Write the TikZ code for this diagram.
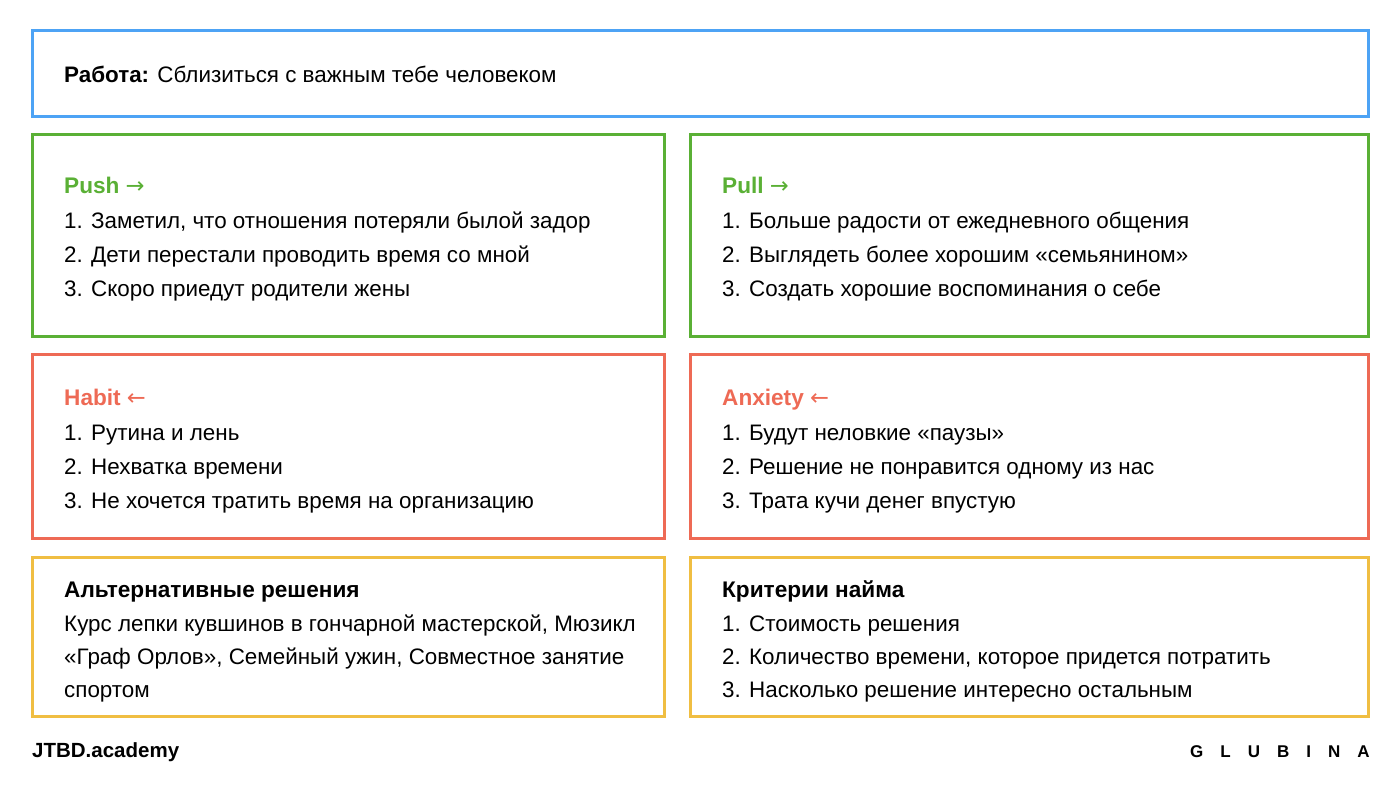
\documentclass[tikz,border=0pt]{standalone}
\usepackage{fontspec}
\setmainfont{Liberation Sans}
\newfontfamily\arrowfont{DejaVu Sans}
\definecolor{jobblue}{HTML}{4DA3F5}
\definecolor{pushgreen}{HTML}{5AB035}
\definecolor{habitred}{HTML}{EE6A55}
\definecolor{altyellow}{HTML}{F0BE42}
\tikzset{
  card/.style={draw, line width=3pt, anchor=north west, inner sep=0pt, outer sep=0pt},
  line/.style={anchor=base west, inner sep=0pt, font=\fontsize{22.4}{22.4}\selectfont},
  head/.style={line, font=\fontsize{22.6}{22.6}\selectfont\bfseries},
  foot/.style={inner sep=0pt, font=\fontsize{20.5}{20.5}\selectfont\bfseries},
}
\newcommand{\rarr}{{\arrowfont\mdseries →}}
\newcommand{\larr}{{\arrowfont\mdseries ←}}
\begin{document}
\begin{tikzpicture}[x=1pt, y=-1pt]
  \useasboundingbox[fill=white] (0,0) rectangle (1400,786);

  % cards
  \node[card, draw=jobblue,    minimum width=1336pt, minimum height=86pt]  (job)     at (32.5,30.5)  {};
  \node[card, draw=pushgreen,  minimum width=632pt,  minimum height=202pt] (push)    at (32.5,134.5) {};
  \node[card, draw=pushgreen,  minimum width=678pt,  minimum height=202pt] (pull)    at (690.5,134.5) {};
  \node[card, draw=habitred,   minimum width=632pt,  minimum height=184pt] (habit)   at (32.5,354.5) {};
  \node[card, draw=habitred,   minimum width=678pt,  minimum height=184pt] (anxiety) at (690.5,354.5) {};
  \node[card, draw=altyellow,  minimum width=632pt,  minimum height=159pt] (alt)     at (32.5,557.5) {};
  \node[card, draw=altyellow,  minimum width=678pt,  minimum height=159pt] (hire)    at (690.5,557.5) {};

  % job statement
  \node[line] (jobtext) at (64,83) {\textbf{Работа:} Сблизиться с важным тебе человеком};

  % push
  \node[head, text=pushgreen] (pushh) at (64,194) {Push \rarr};
  \node[line] (push1) at (64,229) {1. Заметил, что отношения потеряли былой задор};
  \node[line] (push2) at (64,263) {2. Дети перестали проводить время со мной};
  \node[line] (push3) at (64,297) {3. Скоро приедут родители жены};

  % pull
  \node[head, text=pushgreen] (pullh) at (722,194) {Pull \rarr};
  \node[line] (pull1) at (722,229) {1. Больше радости от ежедневного общения};
  \node[line] (pull2) at (722,263) {2. Выглядеть более хорошим «семьянином»};
  \node[line] (pull3) at (722,297) {3. Создать хорошие воспоминания о себе};

  % habit
  \node[head, text=habitred] (habith) at (64,405) {Habit \larr};
  \node[line] (habit1) at (64,440) {1. Рутина и лень};
  \node[line] (habit2) at (64,474) {2. Нехватка времени};
  \node[line] (habit3) at (64,508) {3. Не хочется тратить время на организацию};

  % anxiety
  \node[head, text=habitred] (anxh) at (722,405) {Anxiety \larr};
  \node[line] (anx1) at (722,440) {1. Будут неловкие «паузы»};
  \node[line] (anx2) at (722,474) {2. Решение не понравится одному из нас};
  \node[line] (anx3) at (722,508) {3. Трата кучи денег впустую};

  % alternatives
  \node[head] (alth) at (64,597) {Альтернативные решения};
  \node[line] (alt1) at (64,631) {Курс лепки кувшинов в гончарной мастерской, Мюзикл};
  \node[line] (alt2) at (64,664) {«Граф Орлов», Семейный ужин, Совместное занятие};
  \node[line] (alt3) at (64,697) {спортом};

  % hiring criteria
  \node[head] (hireh) at (722,597) {Критерии найма};
  \node[line] (hire1) at (722,631) {1. Стоимость решения};
  \node[line] (hire2) at (722,664) {2. Количество времени, которое придется потратить};
  \node[line] (hire3) at (722,697) {3. Насколько решение интересно остальным};

  % footer
  \node[foot, anchor=base west] (academy) at (32,757) {JTBD.academy};
  \node[foot, anchor=base west, font=\fontsize{17}{17}\selectfont\bfseries] (glubina) at (1190,757)
    {\addfontfeature{LetterSpace=100}GLUBINA};
\end{tikzpicture}
\end{document}
